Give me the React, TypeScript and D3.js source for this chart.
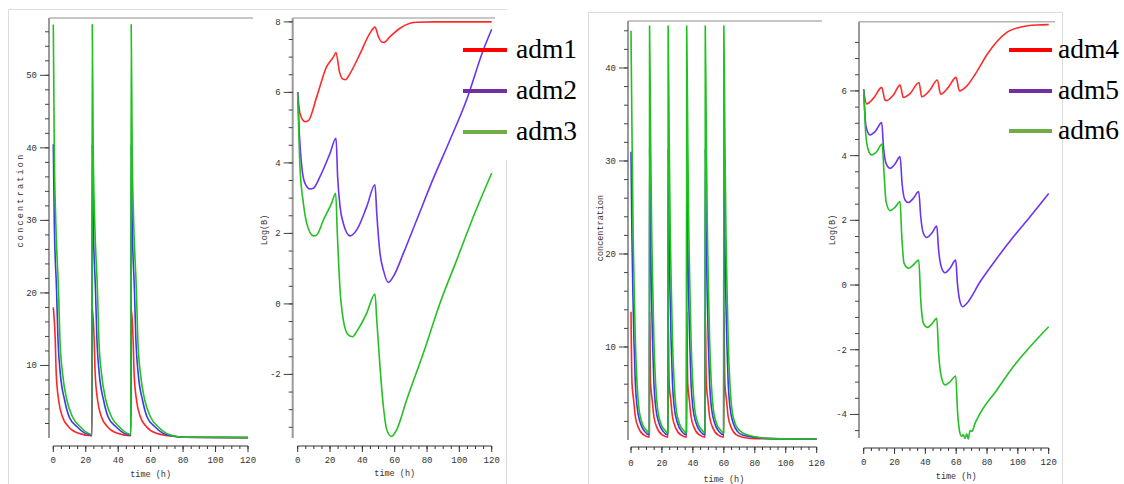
import React from "react";
import * as d3 from "d3";

type Pt = [number, number];

// ---- panel A: concentration, dose every 24 h ----
const concA_adm1: Pt[] = [
  [0, 18], [1.2, 13.5], [1.8, 8.9], [3.3, 5.2], [5.7, 2.9], [9.4, 1.56], [15.6, 0.64], [23.8, 0.3],
  [24, 18], [25.2, 13.5], [25.8, 8.9], [27.3, 5.2], [29.7, 2.9], [33.4, 1.56], [39.6, 0.64], [47.8, 0.3],
  [48, 18], [49.2, 13.5], [49.8, 8.9], [51.3, 5.2], [53.7, 2.9], [57.4, 1.56], [63.6, 0.64], [71, 0.3], [80, 0.1], [120, 0.05],
];
const concA_adm2: Pt[] = [
  [0, 40.5], [0.6, 30], [2.0, 20.4], [2.9, 13.5], [4.3, 8.9], [7.0, 5.2], [9.8, 2.9], [14.6, 1.56], [19.7, 0.64], [23.8, 0.4],
  [24, 40.5], [24.6, 30], [26.0, 20.4], [26.9, 13.5], [28.3, 8.9], [31, 5.2], [33.8, 2.9], [38.6, 1.56], [43.7, 0.64], [47.8, 0.4],
  [48, 40.5], [48.6, 30], [50.0, 20.4], [50.9, 13.5], [52.3, 8.9], [55, 5.2], [57.8, 2.9], [62.6, 1.56], [67.7, 0.64], [73, 0.3], [80, 0.1], [120, 0.05],
];
const concA_adm3: Pt[] = [
  [0, 57], [0.6, 40], [1.5, 30], [3.2, 20.4], [4.1, 13.5], [5.7, 8.9], [8.4, 5.2], [11.9, 2.9], [16.6, 1.56], [21.7, 0.64], [23.8, 0.5],
  [24, 57], [24.6, 40], [25.5, 30], [27.2, 20.4], [28.1, 13.5], [29.7, 8.9], [32.4, 5.2], [35.9, 2.9], [40.6, 1.56], [45.7, 0.64], [47.8, 0.5],
  [48, 57], [48.6, 40], [49.5, 30], [51.2, 20.4], [52.1, 13.5], [53.7, 8.9], [56.4, 5.2], [59.9, 2.9], [64.6, 1.56], [69.7, 0.64], [74, 0.3], [80, 0.1], [120, 0.05],
];

// ---- panel B: log(B), dose every 24 h ----
const logA_adm1: Pt[] = [
  [0, 6.0], [1.4, 5.4], [4.5, 5.17], [6.6, 5.2], [11.8, 5.88], [17.9, 6.73], [22, 7.0], [23.7, 7.13],
  [25.8, 6.59], [28.2, 6.37], [29.6, 6.36], [32.4, 6.54], [38.6, 7.1], [44.7, 7.68], [47.8, 7.85],
  [49.9, 7.58], [52, 7.43], [53.5, 7.42], [57.1, 7.58], [63.3, 7.82], [69.5, 7.96], [73.6, 7.99], [85, 8.0], [120, 8.0],
];
const logA_adm2: Pt[] = [
  [0, 6.0], [1.0, 4.84], [2.5, 3.9], [4.5, 3.42], [7.6, 3.26], [9.7, 3.28], [13.8, 3.61], [20, 4.27], [23.7, 4.7],
  [24.7, 3.61], [26.2, 2.76], [28.2, 2.29], [32.4, 1.93], [36.5, 2.1], [42.7, 2.76], [47.8, 3.38],
  [48.9, 2.57], [50.9, 1.44], [53, 0.96], [56.1, 0.61], [59.2, 0.78], [65.4, 1.44], [73.6, 2.38],
  [83.9, 3.56], [94.2, 4.65], [104.5, 5.79], [114.8, 7.2], [120, 7.79],
];
const logA_adm3: Pt[] = [
  [0, 6.0], [1.4, 3.9], [3.5, 2.86], [5.6, 2.29], [9.7, 1.93], [11.8, 1.96], [15.9, 2.38], [21, 2.86], [23.5, 3.14],
  [24.5, 2.0], [26.2, 0.4], [28.2, -0.45], [31.3, -0.88], [34, -0.93], [36.5, -0.78], [42.7, -0.26], [47.8, 0.28],
  [48.9, -0.45], [50.9, -1.78], [53, -2.91], [55.1, -3.57], [58.1, -3.76], [61.2, -3.57], [67.4, -2.72],
  [77.7, -1.4], [88, 0.02], [98.4, 1.25], [108.7, 2.48], [120, 3.71],
];

// ---- panel C: concentration, dose every 12 h ----
const concB_adm4: Pt[] = [
  [0, 13.8], [0.65, 6.1], [1.7, 4.3], [2.8, 2.5], [5, 1.25], [8.2, 0.54], [11.9, 0.3],
  [12, 13.8], [12.65, 6.1], [13.7, 4.3], [14.8, 2.5], [17, 1.25], [20.2, 0.54], [23.9, 0.3],
  [24, 13.8], [24.65, 6.1], [25.7, 4.3], [26.8, 2.5], [29, 1.25], [32.2, 0.54], [35.9, 0.3],
  [36, 13.8], [36.65, 6.1], [37.7, 4.3], [38.8, 2.5], [41, 1.25], [44.2, 0.54], [47.9, 0.3],
  [48, 13.8], [48.65, 6.1], [49.7, 4.3], [50.8, 2.5], [53, 1.25], [56.2, 0.54], [59.9, 0.3],
  [60, 13.8], [60.65, 6.1], [61.7, 4.3], [62.8, 2.5], [65, 1.25], [68.2, 0.54], [72, 0.3], [80, 0.15], [120, 0.1],
];
const concB_adm5: Pt[] = [
  [0, 31], [0.6, 22], [1.2, 16], [1.9, 10.75], [2.8, 6.1], [3.9, 3.6], [6.1, 1.8], [8.9, 0.9], [11.9, 0.55],
  [12, 31.3], [12.6, 22], [13.2, 16], [13.9, 10.75], [14.8, 6.1], [15.9, 3.6], [18.1, 1.8], [20.9, 0.9], [23.9, 0.55],
  [24, 31.3], [24.6, 22], [25.2, 16], [25.9, 10.75], [26.8, 6.1], [27.9, 3.6], [30.1, 1.8], [32.9, 0.9], [35.9, 0.55],
  [36, 31.3], [36.6, 22], [37.2, 16], [37.9, 10.75], [38.8, 6.1], [39.9, 3.6], [42.1, 1.8], [44.9, 0.9], [47.9, 0.55],
  [48, 31.3], [48.6, 22], [49.2, 16], [49.9, 10.75], [50.8, 6.1], [51.9, 3.6], [54.1, 1.8], [56.9, 0.9], [59.9, 0.55],
  [60, 31.3], [60.6, 22], [61.2, 16], [61.9, 10.75], [62.8, 6.1], [63.9, 3.6], [66.1, 1.8], [68.9, 0.9], [72, 0.55], [80, 0.3], [90, 0.15], [120, 0.1],
];
const concB_adm6: Pt[] = [
  [0, 44], [0.7, 32], [1.4, 22], [2.1, 16], [2.8, 10.75], [3.9, 6.1], [5, 3.6], [7.2, 1.8], [9.7, 1.1], [11.9, 0.75],
  [12, 44.5], [12.7, 32], [13.4, 22], [14.1, 16], [14.8, 10.75], [15.9, 6.1], [17, 3.6], [19.2, 1.8], [21.7, 1.1], [23.9, 0.75],
  [24, 44.5], [24.7, 32], [25.4, 22], [26.1, 16], [26.8, 10.75], [27.9, 6.1], [29, 3.6], [31.2, 1.8], [33.7, 1.1], [35.9, 0.75],
  [36, 44.5], [36.7, 32], [37.4, 22], [38.1, 16], [38.8, 10.75], [39.9, 6.1], [41, 3.6], [43.2, 1.8], [45.7, 1.1], [47.9, 0.75],
  [48, 44.5], [48.7, 32], [49.4, 22], [50.1, 16], [50.8, 10.75], [51.9, 6.1], [53, 3.6], [55.2, 1.8], [57.7, 1.1], [59.9, 0.75],
  [60, 44.5], [60.7, 32], [61.4, 22], [62.1, 16], [62.8, 10.75], [63.9, 6.1], [65, 3.6], [67.2, 1.8], [69.7, 1.1], [72, 0.8], [76, 0.5], [80, 0.35], [90, 0.15], [120, 0.1],
];

// ---- panel D: log(B), dose every 12 h ----
const logB_adm4: Pt[] = [
  [0, 6.0], [1.9, 5.6], [6.3, 5.77], [11.7, 6.11], [13.8, 5.72], [14.9, 5.7], [19.2, 5.87], [23.6, 6.18],
  [25.7, 5.8], [30.1, 5.92], [35.9, 6.26], [37.6, 5.82], [43, 6.03], [47.8, 6.34], [49.9, 5.9], [54.9, 6.11],
  [59.9, 6.42], [62.1, 6.0], [66.8, 6.15], [73.3, 6.59], [79.8, 7.11], [86.3, 7.52], [92.8, 7.81], [101.4, 7.97],
  [112.2, 8.04], [120, 8.05],
];
const logB_adm5: Pt[] = [
  [0, 6.05], [1.5, 4.9], [4.1, 4.64], [7.4, 4.74], [11.7, 5.02], [12.8, 4.28], [14.5, 3.76], [17.1, 3.61],
  [20.3, 3.74], [23.6, 3.97], [24.9, 3.14], [26.8, 2.63], [29, 2.55], [32.2, 2.68], [35.7, 2.89], [37, 2.11],
  [38.7, 1.6], [40.9, 1.47], [44.1, 1.6], [47.4, 1.82], [48.6, 1.08], [50.6, 0.52], [52.8, 0.38], [56, 0.52],
  [59.7, 0.77], [60.8, 0.05], [62.5, -0.52], [64.2, -0.67], [66.8, -0.57], [75.5, 0.1], [86.3, 0.82],
  [97.1, 1.49], [107.9, 2.11], [120, 2.83],
];
const logB_adm6: Pt[] = [
  [0, 6.05], [1.3, 4.69], [3, 4.17], [5.2, 4.02], [8.4, 4.12], [11.9, 4.36], [13.2, 3.45], [14.5, 2.58],
  [17.1, 2.3], [20.3, 2.4], [23.6, 2.58], [24.6, 1.6], [26.2, 0.67], [29, 0.52], [32.2, 0.62], [35.7, 0.77],
  [37, -0.46], [38.7, -1.18], [41.3, -1.31], [44.1, -1.21], [47.4, -1.03], [48.6, -2.11], [50.6, -2.89],
  [52.8, -3.09], [56, -2.99], [59.7, -2.81], [60.8, -3.86], [62.5, -4.59], [63.6, -4.68], [64.6, -4.62],
  [65.7, -4.74], [66.8, -4.6], [67.8, -4.76], [69, -4.5], [70.3, -4.52], [72, -4.3], [75.5, -3.97],
  [86.3, -3.25], [97.1, -2.52], [107.9, -1.91], [120, -1.29],
];

const legendA = ["adm1", "adm2", "adm3"];
const legendB = ["adm4", "adm5", "adm6"];
const legendColors = ["#ff0000", "#7030a0", "#70ad47"];

const concColors = ["#ff2626", "#3a3ae6", "#1fc21f"];
const logColors = ["#ff2b2b", "#6b35f0", "#24c024"];

const xMajor = d3.range(0, 121, 20);
const xMinor = d3.range(0, 121, 5);

const axisFont = "'Liberation Mono', 'DejaVu Sans Mono', monospace";

interface PanelProps {
  xLeft: number;
  xRight: number;
  axisX: number;
  axisBottom: number;
  plotTop: number;
  topRight: number;
  xAxisY: number;
  yDomain: [number, number];
  yRange: [number, number];
  yMajor: number[];
  yMinor: number[];
  yTitle: string;
  yTitleX: number;
  yTitleY: number;
  yTitleSpacing: number;
  xLabelY: number;
  xTitleY: number;
  series: Pt[][];
  colors: string[];
}

function Panel(p: PanelProps) {
  const x = d3.scaleLinear().domain([0, 120]).range([p.xLeft, p.xRight]);
  const y = d3.scaleLinear().domain(p.yDomain).range(p.yRange);
  const line = d3
    .line<Pt>()
    .x((d) => x(d[0]))
    .y((d) => y(d[1]))
    .curve(d3.curveMonotoneX);
  return (
    <g>
      {/* top border */}
      <line x1={p.axisX} x2={p.topRight} y1={p.plotTop} y2={p.plotTop} stroke="#b4b4b4" strokeWidth={1.5} />
      {/* y axis */}
      <line x1={p.axisX} x2={p.axisX} y1={p.plotTop} y2={p.axisBottom} stroke="#9a9a9a" strokeWidth={2} />
      {p.yMinor.map((v) => (
        <line key={"m" + v} x1={p.axisX - 4} x2={p.axisX} y1={y(v)} y2={y(v)} stroke="#444" strokeWidth={1} />
      ))}
      {p.yMajor.map((v) => (
        <g key={"M" + v}>
          <line x1={p.axisX - 9} x2={p.axisX} y1={y(v)} y2={y(v)} stroke="#444" strokeWidth={1} />
          <text x={p.axisX - 12} y={y(v) + 3} textAnchor="end" fontSize={9} fontFamily={axisFont} fill="#333">
            {v}
          </text>
        </g>
      ))}
      <text
        transform={`translate(${p.yTitleX},${p.yTitleY}) rotate(-90)`}
        textAnchor="middle"
        fontSize={8.5}
        letterSpacing={p.yTitleSpacing}
        fontFamily={axisFont}
        fill="#333"
      >
        {p.yTitle}
      </text>
      {/* x axis */}
      <line x1={x(0)} x2={x(120)} y1={p.xAxisY} y2={p.xAxisY} stroke="#333" strokeWidth={1} />
      {xMinor.map((v) => (
        <line key={"xm" + v} x1={x(v)} x2={x(v)} y1={p.xAxisY} y2={p.xAxisY + 3} stroke="#333" strokeWidth={1} />
      ))}
      {xMajor.map((v) => (
        <g key={"xM" + v}>
          <line x1={x(v)} x2={x(v)} y1={p.xAxisY} y2={p.xAxisY + 6} stroke="#333" strokeWidth={1} />
          <text x={x(v)} y={p.xLabelY} textAnchor="middle" fontSize={9} fontFamily={axisFont} fill="#333">
            {v}
          </text>
        </g>
      ))}
      <text x={(x(0) + x(120)) / 2} y={p.xTitleY} textAnchor="middle" fontSize={8.5} fontFamily={axisFont} fill="#333">
        time (h)
      </text>
      {p.series.map((s, i) => (
        <path key={i} d={line(s) || ""} fill="none" stroke={p.colors[i]} strokeWidth={1.6} strokeLinejoin="round" />
      ))}
    </g>
  );
}

function Legend({ names, x0, x1, tx, ys }: { names: string[]; x0: number; x1: number; tx: number; ys: number[] }) {
  return (
    <g>
      {names.map((n, i) => (
        <g key={n}>
          <line x1={x0} x2={x1} y1={ys[i]} y2={ys[i]} stroke={legendColors[i]} strokeWidth={4} />
          <text x={tx} y={ys[i] + 8} fontSize={27.5} fontFamily="'Liberation Serif', 'Times New Roman', serif" fill="#000">
            {n}
          </text>
        </g>
      ))}
    </g>
  );
}

export default function App() {
  const W = 1124;
  const H = 484;
  return (
    <svg width={W} height={H} style={{ position: "absolute", left: 0, top: 0, background: "#fff" }}>
      <rect width={W} height={H} fill="#fff" />
      {/* screenshot frames */}
      <path d="M8.5,484 V9.5 H507" fill="none" stroke="#dcdcdc" strokeWidth={1} />
      <line x1={506.5} x2={506.5} y1={160} y2={484} stroke="#dcdcdc" strokeWidth={1} />
      <path d="M588.5,484 V12.5 H1062.5 V484" fill="none" stroke="#dcdcdc" strokeWidth={1} />

      <Panel
        xLeft={53.3}
        xRight={248}
        axisX={49}
        axisBottom={438}
        plotTop={18}
        topRight={253}
        xAxisY={446}
        yDomain={[0, 57.9]}
        yRange={[438, 18]}
        yMajor={[10, 20, 30, 40, 50]}
        yMinor={d3.range(2, 57, 2)}
        yTitle="concentration"
        yTitleX={23}
        yTitleY={200}
        yTitleSpacing={2.2}
        xLabelY={463}
        xTitleY={477}
        series={[concA_adm1, concA_adm2, concA_adm3]}
        colors={concColors}
      />
      <Panel
        xLeft={297.7}
        xRight={491.7}
        axisX={292.7}
        axisBottom={438}
        plotTop={18}
        topRight={495}
        xAxisY={446}
        yDomain={[-3.86, 8.11]}
        yRange={[440, 18]}
        yMajor={[-2, 0, 2, 4, 6, 8]}
        yMinor={d3.range(-3.5, 8.01, 0.5)}
        yTitle="Log(B)"
        yTitleX={267}
        yTitleY={230}
        yTitleSpacing={0}
        xLabelY={463}
        xTitleY={476}
        series={[logA_adm1, logA_adm2, logA_adm3]}
        colors={logColors}
      />
      <Panel
        xLeft={631}
        xRight={816.7}
        axisX={628}
        axisBottom={440}
        plotTop={21}
        topRight={822}
        xAxisY={447}
        yDomain={[0, 45.05]}
        yRange={[440, 21]}
        yMajor={[10, 20, 30, 40]}
        yMinor={d3.range(2, 45, 2)}
        yTitle="concentration"
        yTitleX={603}
        yTitleY={228}
        yTitleSpacing={0}
        xLabelY={466}
        xTitleY={482}
        series={[concB_adm4, concB_adm5, concB_adm6]}
        colors={concColors}
      />
      <Panel
        xLeft={863.7}
        xRight={1048.7}
        axisX={859}
        axisBottom={438}
        plotTop={21.7}
        topRight={1055}
        xAxisY={448}
        yDomain={[-4.79, 8.14]}
        yRange={[440, 21.7]}
        yMajor={[-4, -2, 0, 2, 4, 6]}
        yMinor={d3.range(-4.5, 7.51, 0.5)}
        yTitle="Log(B)"
        yTitleX={835}
        yTitleY={230}
        yTitleSpacing={0}
        xLabelY={465}
        xTitleY={479}
        series={[logB_adm4, logB_adm5, logB_adm6]}
        colors={logColors}
      />

      <Legend names={legendA} x0={463} x1={507} tx={516} ys={[50, 91, 132]} />
      <Legend names={legendB} x0={1009} x1={1052} tx={1058} ys={[50, 91, 131]} />
    </svg>
  );
}
